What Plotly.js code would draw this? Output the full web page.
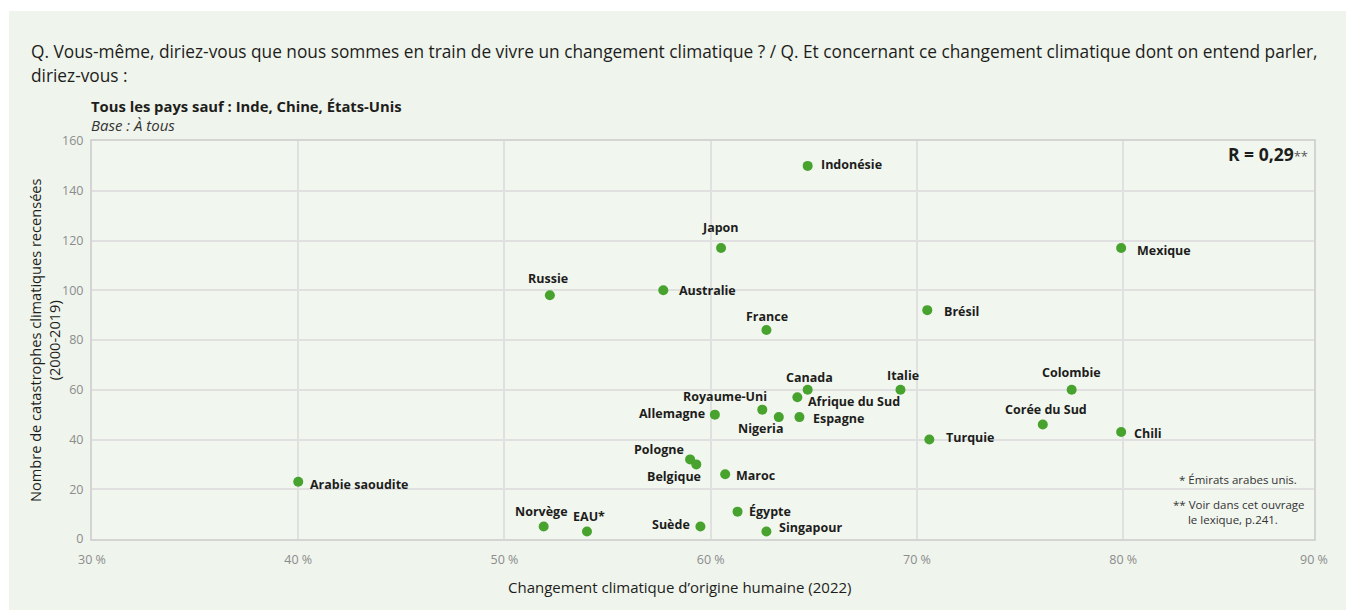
<!DOCTYPE html>
<html><head><meta charset="utf-8">
<script src="https://cdn.plot.ly/plotly-3.0.1.min.js"></script>
<style>
html,body{margin:0;padding:0;background:#ffffff;}
#chart{position:absolute;left:9px;top:11px;width:1337px;height:599px;}
</style></head>
<body><div id="chart"></div>
<script>
// ---- Data ----
const countries = ["Indonésie","Japon","Mexique","Russie","Australie","France","Brésil","Canada","Italie","Colombie","Afrique du Sud","Royaume-Uni","Allemagne","Nigeria","Espagne","Corée du Sud","Chili","Turquie","Pologne","Belgique","Maroc","Arabie saoudite","Égypte","Norvège","EAU*","Suède","Singapour"];
const humanOrigin = [64.7,60.5,79.9,52.2,57.7,62.7,70.5,64.7,69.2,77.5,64.2,62.5,60.2,63.3,64.3,76.1,79.9,70.6,59.0,59.3,60.7,40.0,61.3,51.9,54.0,59.5,62.7];
const disasters = [150,117,117,98,100,84,92,60,60,60,57,52,50,49,49,46,43,40,32,30,26,23,11,5,3,5,3];
const xTickVals = [30,40,50,60,70,80];
const xTickText = ["30 %","40 %","50 %","60 %","70 %","80 %"];
const yTickVals = [0,20,40,60,80,100,120,140,160];

// ---- Label placement (style only): [xanchor, dx px, dy px (down positive)] ----
const labelStyle = {
 "Indonésie":["left",11,-1],"Japon":["center",-1,-20],"Mexique":["left",14,3],
 "Russie":["center",-2,-17],"Australie":["left",14,0],"France":["center",1,-14],
 "Brésil":["left",15,1],"Canada":["center",2,-12],"Italie":["center",3,-14],
 "Colombie":["center",0,-17],"Afrique du Sud":["left",9,4],"Royaume-Uni":["right",7,-13],
 "Allemagne":["right",-8,-1],"Nigeria":["center",-18,11],"Espagne":["left",12,1],
 "Corée du Sud":["center",3,-15],"Chili":["left",11,1],"Turquie":["left",15,-2],
 "Pologne":["right",-4,-10],"Belgique":["right",7,12],"Maroc":["left",9,1],
 "Arabie saoudite":["left",10,3],"Égypte":["left",9,0],"Norvège":["center",-2,-15],
 "EAU*":["center",2,-15],"Suède":["right",-8,-2],"Singapour":["left",11,-4]
};

const W = 1337, H = 599;
const M = {l:83, r:32, t:130, b:71};
const PW = W - M.l - M.r, PH = H - M.t - M.b;
// page pixel -> paper coords
const px = x => (x - 9 - M.l) / PW;
const py = y => 1 - (y - 11 - M.t) / PH;

const FONT = "Open Sans, Lato, sans-serif";
const dark = "#1d1d1b";
const green = "#47a32e";

const annotations = [];
countries.forEach((c,i)=>{
  const s = labelStyle[c];
  annotations.push({x:humanOrigin[i], y:disasters[i], xref:"x", yref:"y", text:"<b>"+c+"</b>",
    showarrow:false, xanchor:s[0], yanchor:"middle", xshift:s[1], yshift:-s[2],
    font:{family:FONT, size:12.5, color:dark}});
});
// Titles and notes
annotations.push({xref:"paper",yref:"paper",x:px(29),y:py(52),xanchor:"left",yanchor:"middle",showarrow:false,
  text:"Q. Vous-même, diriez-vous que nous sommes en train de vivre un changement climatique ? / Q. Et concernant ce changement climatique dont on entend parler,",
  font:{family:FONT,size:17.3,color:dark}});
annotations.push({xref:"paper",yref:"paper",x:px(29),y:py(75),xanchor:"left",yanchor:"middle",showarrow:false,
  text:"diriez-vous :",font:{family:FONT,size:17.3,color:dark}});
annotations.push({xref:"paper",yref:"paper",x:px(89),y:py(106),xanchor:"left",yanchor:"middle",showarrow:false,
  text:"<b>Tous les pays sauf : Inde, Chine, États-Unis</b>",font:{family:FONT,size:14.8,color:dark}});
annotations.push({xref:"paper",yref:"paper",x:px(89),y:py(125),xanchor:"left",yanchor:"middle",showarrow:false,
  text:"<i>Base : À tous</i>",font:{family:FONT,size:15,color:"#333"}});
annotations.push({xref:"paper",yref:"paper",x:px(1310),y:py(154),xanchor:"right",yanchor:"middle",showarrow:false,
  text:"<b>R = 0,29</b><span style='font-size:13px;color:#555'>**</span>",font:{family:FONT,size:17.5,color:dark}});
annotations.push({xref:"paper",yref:"paper",x:px(1299),y:py(479),xanchor:"right",yanchor:"middle",showarrow:false,
  text:"* Émirats arabes unis.",font:{family:FONT,size:11.5,color:"#333"}});
annotations.push({xref:"paper",yref:"paper",x:px(1171),y:py(512),xanchor:"left",yanchor:"middle",showarrow:false,align:"left",
  text:"** Voir dans cet ouvrage<br>     le lexique, p.241.",font:{family:FONT,size:11.5,color:"#333"}});
annotations.push({xref:"paper",yref:"paper",x:px(680),y:py(587),xanchor:"center",yanchor:"middle",showarrow:false,
  text:"Changement climatique d’origine humaine (2022)",font:{family:FONT,size:15,color:dark}});
annotations.push({xref:"paper",yref:"paper",x:px(44),y:py(340),xanchor:"center",yanchor:"middle",showarrow:false,textangle:-90,
  text:"Nombre de catastrophes climatiques recensées<br>(2000-2019)",font:{family:FONT,size:14.6,color:dark}});
annotations.push({xref:"paper",yref:"paper",x:1,y:0,xanchor:"center",yanchor:"top",yshift:-10,showarrow:false,
  text:"90 %",font:{family:FONT,size:12.5,color:"#8c8c8c"}});

const trace = {
  type:"scatter", mode:"markers", x:humanOrigin, y:disasters, text:countries,
  marker:{color:green, size:10, line:{width:0}}, hoverinfo:"text+x+y", cliponaxis:false
};

const axisCommon = {showgrid:true, gridcolor:"#e0e0e0", gridwidth:2, zeroline:false,
  showline:true, linecolor:"#d4d4d4", linewidth:2, mirror:true, ticks:"",
  tickfont:{family:FONT,size:12.5,color:"#8c8c8c"}};

const layout = {
  width:W, height:H, margin:M, paper_bgcolor:"#eff4ec", plot_bgcolor:"#f1f6ef",
  showlegend:false,
  xaxis:Object.assign({}, axisCommon, {range:[30,89.25], tickvals:xTickVals, ticktext:xTickText, ticklabelstandoff:8}),
  yaxis:Object.assign({}, axisCommon, {range:[0,160], tickvals:yTickVals, ticklabelstandoff:4}),
  annotations:annotations
};
Plotly.newPlot("chart",[trace],layout,{displayModeBar:false, staticPlot:true});
</script></body></html>
